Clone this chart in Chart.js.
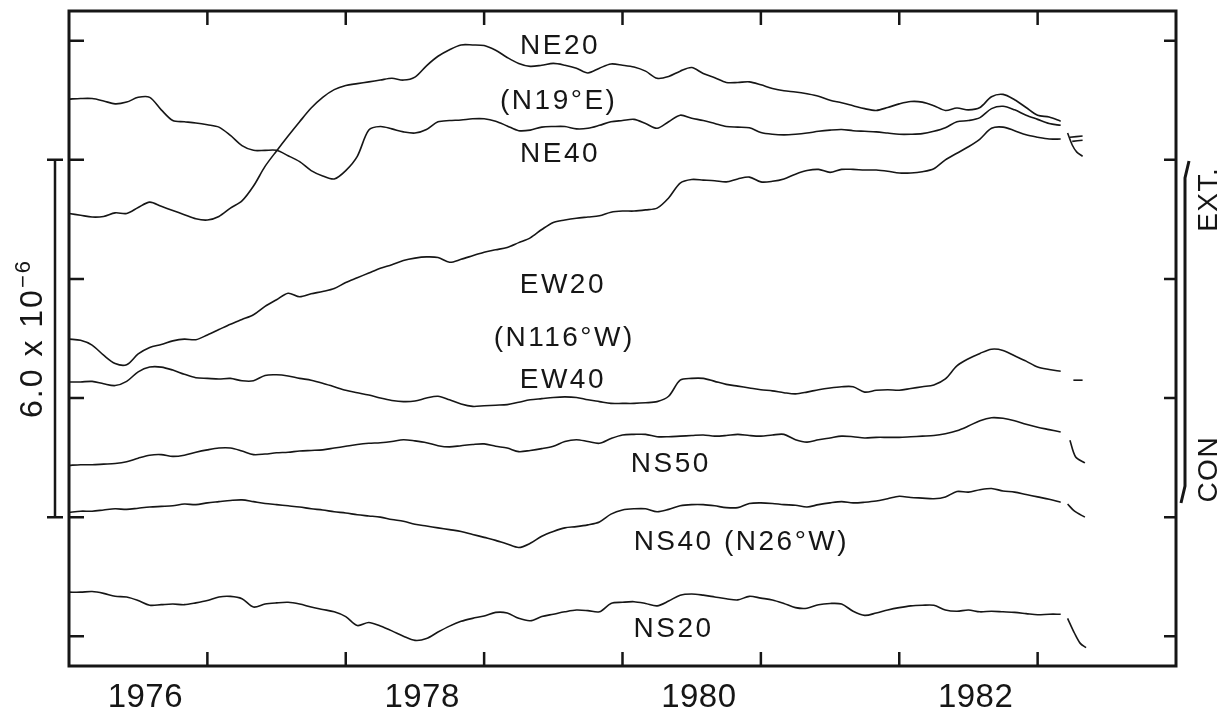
<!DOCTYPE html>
<html>
<head>
<meta charset="utf-8">
<title>Strain records 1976-1983</title>
<script src="https://cdn.jsdelivr.net/npm/chart.js@4.4.1/dist/chart.umd.min.js"></script>
<style>
  html, body { margin: 0; padding: 0; background: #ffffff; }
  #wrap { width: 1232px; height: 713px; }
</style>
</head>
<body>
<div id="wrap"><canvas id="chart" width="1232" height="713"></canvas></div>
<script>
// time axis: decimal years, one sample per month from Jan 1976
const START_YEAR = 1976;
const END_YEAR = 1984;
const MONTHS = Array.from({ length: 87 }, (_, i) => i);

const YEAR_LABELS = ["1976", "1978", "1980", "1982"];
const X_TICK_YEARS = [1977, 1978, 1979, 1980, 1981, 1982, 1983];
const Y_TICKS = [0, 2, 4, 6, 8, 10];

// strain, in units of 1e-6 (records are offset from each other)
const NE20 = [
  7.10, 7.07, 7.04, 7.05, 7.11, 7.10, 7.20, 7.29, 7.22, 7.15,
  7.08, 7.01, 6.99, 7.05, 7.19, 7.31, 7.56, 7.89, 8.15, 8.40,
  8.64, 8.87, 9.05, 9.18, 9.25, 9.28, 9.31, 9.34, 9.37, 9.34,
  9.39, 9.58, 9.74, 9.85, 9.93, 9.93, 9.92, 9.84, 9.72, 9.62,
  9.57, 9.59, 9.62, 9.59, 9.54, 9.46, 9.54, 9.61, 9.59, 9.56,
  9.49, 9.37, 9.40, 9.49, 9.55, 9.45, 9.38, 9.30, 9.30, 9.31,
  9.26, 9.20, 9.16, 9.14, 9.11, 9.07, 9.00, 8.96, 8.91, 8.86,
  8.83, 8.88, 8.94, 8.98, 8.97, 8.91, 8.83, 8.87, 8.84, 8.88,
  9.06, 9.10, 9.01, 8.88, 8.75, 8.72, 8.65
];

const NE40 = [
  9.02, 9.03, 9.03, 8.99, 8.94, 8.97, 9.05, 9.05, 8.84, 8.66,
  8.64, 8.62, 8.59, 8.55, 8.41, 8.24, 8.16, 8.16, 8.16, 8.07,
  7.97, 7.82, 7.73, 7.68, 7.82, 8.06, 8.50, 8.56, 8.52, 8.47,
  8.45, 8.51, 8.64, 8.66, 8.67, 8.69, 8.69, 8.65, 8.57, 8.49,
  8.50, 8.55, 8.56, 8.56, 8.52, 8.53, 8.58, 8.64, 8.66, 8.68,
  8.61, 8.53, 8.64, 8.75, 8.70, 8.66, 8.61, 8.56, 8.55, 8.54,
  8.46, 8.43, 8.42, 8.43, 8.45, 8.48, 8.50, 8.51, 8.49, 8.48,
  8.47, 8.45, 8.43, 8.43, 8.44, 8.48, 8.54, 8.64, 8.66, 8.71,
  8.86, 8.90, 8.84, 8.75, 8.68, 8.61, 8.58
];

const EW20 = [
  4.99, 4.97, 4.89, 4.72, 4.58, 4.56, 4.74, 4.85, 4.90, 4.96,
  4.99, 4.98, 5.06, 5.15, 5.24, 5.32, 5.40, 5.54, 5.65, 5.76,
  5.70, 5.75, 5.79, 5.84, 5.94, 6.02, 6.10, 6.18, 6.24, 6.31,
  6.35, 6.37, 6.36, 6.28, 6.33, 6.39, 6.45, 6.49, 6.53, 6.61,
  6.69, 6.83, 6.95, 6.99, 7.02, 7.04, 7.06, 7.12, 7.14, 7.14,
  7.16, 7.19, 7.36, 7.61, 7.67, 7.66, 7.65, 7.63, 7.68, 7.71,
  7.63, 7.64, 7.68, 7.76, 7.82, 7.84, 7.79, 7.84, 7.84, 7.83,
  7.83, 7.81, 7.78, 7.78, 7.80, 7.85, 8.00, 8.11, 8.22, 8.35,
  8.53, 8.55, 8.49, 8.42, 8.38, 8.35, 8.35
];

const EW40 = [
  4.27, 4.27, 4.28, 4.24, 4.21, 4.28, 4.44, 4.52, 4.52, 4.47,
  4.40, 4.34, 4.33, 4.32, 4.33, 4.29, 4.29, 4.38, 4.39, 4.37,
  4.33, 4.30, 4.25, 4.19, 4.13, 4.09, 4.05, 4.00, 3.96, 3.94,
  3.95, 4.00, 4.03, 3.97, 3.90, 3.86, 3.87, 3.88, 3.89, 3.93,
  3.97, 3.99, 4.01, 4.02, 4.01, 3.97, 3.94, 3.91, 3.91, 3.91,
  3.92, 3.94, 4.03, 4.30, 4.33, 4.33, 4.28, 4.23, 4.20, 4.17,
  4.14, 4.12, 4.09, 4.07, 4.10, 4.14, 4.17, 4.19, 4.19, 4.10,
  4.13, 4.14, 4.13, 4.16, 4.19, 4.22, 4.32, 4.54, 4.66, 4.75,
  4.82, 4.80, 4.71, 4.62, 4.52, 4.48, 4.45
];

const NS50 = [
  2.87, 2.88, 2.88, 2.89, 2.90, 2.93, 2.99, 3.04, 3.05, 3.02,
  3.04, 3.09, 3.13, 3.16, 3.16, 3.11, 3.05, 3.06, 3.08, 3.09,
  3.11, 3.12, 3.13, 3.16, 3.19, 3.22, 3.24, 3.25, 3.27, 3.30,
  3.28, 3.25, 3.20, 3.18, 3.20, 3.22, 3.23, 3.19, 3.16, 3.10,
  3.12, 3.15, 3.19, 3.27, 3.30, 3.27, 3.24, 3.32, 3.38, 3.39,
  3.39, 3.35, 3.35, 3.36, 3.37, 3.38, 3.36, 3.37, 3.39, 3.37,
  3.36, 3.38, 3.39, 3.30, 3.26, 3.30, 3.33, 3.36, 3.35, 3.33,
  3.34, 3.34, 3.34, 3.35, 3.36, 3.37, 3.40, 3.45, 3.53, 3.62,
  3.67, 3.66, 3.62, 3.56, 3.51, 3.47, 3.43
];

const NS40 = [
  2.08, 2.10, 2.10, 2.12, 2.14, 2.13, 2.15, 2.17, 2.18, 2.19,
  2.22, 2.21, 2.24, 2.26, 2.28, 2.29, 2.26, 2.23, 2.21, 2.19,
  2.17, 2.14, 2.12, 2.09, 2.07, 2.04, 2.02, 2.00, 1.96, 1.93,
  1.88, 1.85, 1.82, 1.79, 1.76, 1.71, 1.66, 1.61, 1.55, 1.49,
  1.56, 1.68, 1.76, 1.82, 1.84, 1.87, 1.92, 2.05, 2.12, 2.14,
  2.14, 2.09, 2.13, 2.19, 2.21, 2.21, 2.19, 2.16, 2.16, 2.23,
  2.24, 2.23, 2.21, 2.20, 2.17, 2.21, 2.24, 2.26, 2.24, 2.25,
  2.27, 2.31, 2.35, 2.33, 2.32, 2.31, 2.34, 2.43, 2.42, 2.46,
  2.48, 2.44, 2.42, 2.38, 2.34, 2.30, 2.25
];

const NS20 = [
  0.74, 0.74, 0.75, 0.72, 0.67, 0.66, 0.60, 0.52, 0.53, 0.54,
  0.53, 0.56, 0.60, 0.66, 0.67, 0.63, 0.49, 0.54, 0.56, 0.57,
  0.54, 0.49, 0.45, 0.41, 0.33, 0.18, 0.23, 0.17, 0.09, 0.00,
  -0.07, -0.04, 0.07, 0.17, 0.25, 0.30, 0.34, 0.40, 0.39, 0.30,
  0.26, 0.33, 0.37, 0.41, 0.44, 0.43, 0.41, 0.55, 0.57, 0.58,
  0.55, 0.51, 0.59, 0.69, 0.71, 0.69, 0.66, 0.63, 0.61, 0.67,
  0.64, 0.61, 0.55, 0.48, 0.47, 0.53, 0.55, 0.54, 0.42, 0.35,
  0.39, 0.44, 0.48, 0.51, 0.52, 0.52, 0.44, 0.42, 0.44, 0.41,
  0.42, 0.41, 0.40, 0.38, 0.36, 0.37, 0.37
];

// short pieces after the break at the end of each record (month, value)
const NE20_TAIL_M = [86.8, 87.9];
const NE20_TAIL = [8.38, 8.40];
const NE40_TAIL_M = [87.0, 87.9];
const NE40_TAIL = [8.31, 8.33];
const EW20_TAIL_M = [86.6, 87.0, 87.4, 87.9];
const EW20_TAIL = [8.45, 8.25, 8.13, 8.06];
const EW40_TAIL_M = [87.1, 87.9];
const EW40_TAIL = [4.30, 4.30];
const NS50_TAIL_M = [86.8, 87.3, 88.1];
const NS50_TAIL = [3.29, 3.01, 2.91];
const NS40_TAIL_M = [86.6, 87.2, 88.1];
const NS40_TAIL = [2.22, 2.10, 2.00];
const NS20_TAIL_M = [86.6, 87.2, 87.7, 88.2];
const NS20_TAIL = [0.30, 0.05, -0.12, -0.19];

const SERIES_NAMES = ["NE20", "NE40", "EW20", "EW40", "NS50", "NS40", "NS20"];

const FONT = '"Liberation Sans", Arial, sans-serif';
const INK = "#161616";


function toPoints(months, values) {
  return months.map((m, i) => ({
    x: START_YEAR + m / 12,
    y: values[i]
  }));
}


function lineDataset(label, points) {
  return {
    label: label,
    data: points,
    borderColor: INK,
    borderWidth: 1.6,
    pointRadius: 0,
    tension: 0.3,
    fill: false
  };
}


function buildDatasets() {
  const main = [NE20, NE40, EW20, EW40, NS50, NS40, NS20];
  const tailM = [NE20_TAIL_M, NE40_TAIL_M, EW20_TAIL_M, EW40_TAIL_M, NS50_TAIL_M, NS40_TAIL_M, NS20_TAIL_M];
  const tailV = [NE20_TAIL, NE40_TAIL, EW20_TAIL, EW40_TAIL, NS50_TAIL, NS40_TAIL, NS20_TAIL];

  const datasets = [];

  SERIES_NAMES.forEach((name, k) => {
    datasets.push(lineDataset(name, toPoints(MONTHS, main[k])));
    datasets.push(lineDataset(name + " end", toPoints(tailM[k], tailV[k])));
  });

  return datasets;
}


// text helper: centred on (cx, cy), cap height used for vertical centring
function centerText(ctx, text, cx, cy, size, spacing) {
  ctx.font = size + "px " + FONT;
  ctx.letterSpacing = (spacing || 0) + "px";
  const w = ctx.measureText(text).width - (spacing || 0);
  ctx.textAlign = "left";
  ctx.textBaseline = "alphabetic";
  ctx.fillText(text, cx - w / 2, cy + size * 0.358);
}


const framePlugin = {
  id: "frame",
  afterDatasetsDraw(chart) {
    const ctx = chart.ctx;
    const a = chart.chartArea;
    const x = chart.scales.x;
    const y = chart.scales.y;

    ctx.save();
    ctx.strokeStyle = INK;
    ctx.fillStyle = INK;

    // frame
    ctx.lineWidth = 3;
    ctx.strokeRect(a.left, a.top, a.right - a.left, a.bottom - a.top);

    // inward ticks
    ctx.lineWidth = 2.5;
    ctx.beginPath();
    X_TICK_YEARS.forEach(yr => {
      const px = x.getPixelForValue(yr);
      ctx.moveTo(px, a.top);
      ctx.lineTo(px, a.top + 14);
      ctx.moveTo(px, a.bottom);
      ctx.lineTo(px, a.bottom - 14);
    });
    Y_TICKS.forEach(v => {
      const py = y.getPixelForValue(v);
      ctx.moveTo(a.left, py);
      ctx.lineTo(a.left + 15, py);
      ctx.moveTo(a.right, py);
      ctx.lineTo(a.right - 12, py);
    });
    ctx.stroke();

    // year labels, centred in the year
    YEAR_LABELS.forEach(label => {
      const px = x.getPixelForValue(Number(label) + 0.55);
      centerText(ctx, label, px, a.bottom + 29, 33, 0.5);
    });

    // record names
    const names = [
      ["NE20", 1979.54, 9.94],
      ["(N19°E)", 1979.53, 9.03],
      ["NE40", 1979.54, 8.14],
      ["EW20", 1979.56, 5.93],
      ["(N116°W)", 1979.57, 5.05],
      ["EW40", 1979.56, 4.33],
      ["NS50", 1980.34, 2.92],
      ["NS40 (N26°W)", 1980.85, 1.61],
      ["NS20", 1980.36, 0.15]
    ];
    names.forEach(([text, yr, v]) => {
      centerText(ctx, text, x.getPixelForValue(yr), y.getPixelForValue(v), 28, 2.5);
    });

    // scale bar: 6.0 x 10^-6 spans three tick intervals
    const barX = a.left - 14;
    const barTop = y.getPixelForValue(8);
    const barBottom = y.getPixelForValue(2);
    ctx.lineWidth = 2.5;
    ctx.beginPath();
    ctx.moveTo(barX, barTop);
    ctx.lineTo(barX, barBottom);
    ctx.moveTo(barX - 8, barTop);
    ctx.lineTo(barX + 8, barTop);
    ctx.moveTo(barX - 8, barBottom);
    ctx.lineTo(barX + 8, barBottom);
    ctx.stroke();

    ctx.save();
    ctx.translate(31, y.getPixelForValue(5));
    ctx.rotate(-Math.PI / 2);
    ctx.textBaseline = "alphabetic";
    ctx.textAlign = "left";
    ctx.letterSpacing = "2px";
    ctx.font = "32px " + FONT;
    const base = "6.0 x 10";
    const wBase = ctx.measureText(base).width;
    ctx.font = "22px " + FONT;
    const sup = "\u22126";
    const wSup = ctx.measureText(sup).width;
    const start = -(wBase + wSup) / 2;
    ctx.font = "32px " + FONT;
    ctx.fillText(base, start, 32 * 0.358);
    ctx.font = "22px " + FONT;
    ctx.fillText(sup, start + wBase, 32 * 0.358 - 12);
    ctx.restore();

    // EXT. / CON arrow on the right
    const arrowX = a.right + 9;
    ctx.lineWidth = 3;
    ctx.beginPath();
    ctx.moveTo(arrowX + 4, 161);
    ctx.lineTo(arrowX, 178);
    ctx.lineTo(arrowX, 486);
    ctx.lineTo(arrowX - 4, 503);
    ctx.stroke();

    ctx.save();
    ctx.translate(a.right + 31, 200);
    ctx.rotate(-Math.PI / 2);
    centerText(ctx, "EXT.", 0, 0, 28, 1.5);
    ctx.restore();

    ctx.save();
    ctx.translate(a.right + 31, 470);
    ctx.rotate(-Math.PI / 2);
    centerText(ctx, "CON", 0, 0, 28, 1.5);
    ctx.restore();

    ctx.restore();
  }
};


document.addEventListener("DOMContentLoaded", () => {
  const canvas = document.getElementById("chart");

  new Chart(canvas.getContext("2d"), {
    type: "line",
    data: {
      datasets: buildDatasets()
    },
    options: {
      responsive: false,
      animation: false,
      layout: {
        padding: { left: 69, right: 56, top: 11, bottom: 47 }
      },
      plugins: {
        legend: { display: false },
        tooltip: { enabled: false }
      },
      scales: {
        x: { type: "linear", min: START_YEAR, max: END_YEAR, display: false },
        y: { type: "linear", min: -0.5, max: 10.5, display: false }
      }
    },
    plugins: [framePlugin]
  });
});
</script>
</body>
</html>
